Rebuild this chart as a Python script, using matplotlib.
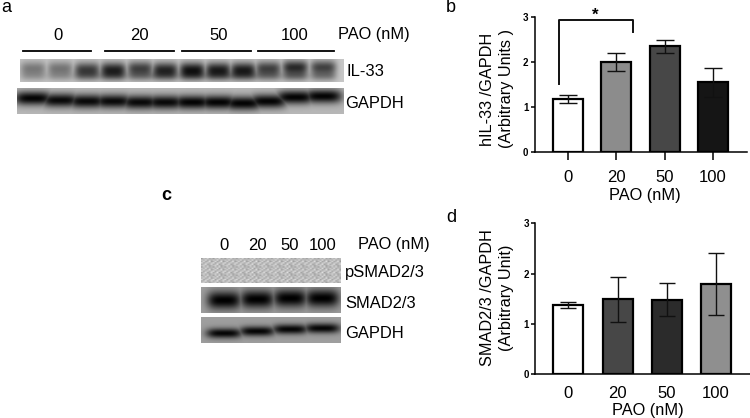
import numpy as np
import matplotlib
matplotlib.use("Agg")
import matplotlib.pyplot as plt

plt.rcParams['font.family'] = ['Liberation Sans', 'DejaVu Sans']

W, H = 750, 418

doses = ['0', '20', '50', '100']

il33_mean = [1.18, 1.99, 2.34, 1.54]
il33_err = [0.09, 0.20, 0.15, 0.32]
il33_colors = ['white', '#8c8c8c', '#474747', '#151515']

smad_mean = [1.37, 1.49, 1.48, 1.79]
smad_err = [0.06, 0.45, 0.33, 0.61]
smad_colors = ['white', '#474747', '#2b2b2b', '#8f8f8f']

# blot lanes, darkness 0-1
il33_lanes = [33, 60, 87, 113, 140, 165, 192, 218, 243, 268, 295, 323]
il33_dark = [0.38, 0.40, 0.66, 0.78, 0.66, 0.76, 0.84, 0.80, 0.80, 0.66, 0.78, 0.66]
il33_y = [68, 68, 69, 69, 68, 69, 69, 69, 69, 68, 67, 67]
gapdh_a_y = [98, 100, 101, 101, 102, 102, 102, 102, 103, 101, 97, 96]
gapdh_a_dark = [0.98, 0.95, 0.95, 0.95, 0.95, 0.95, 0.98, 0.98, 0.98, 0.98, 0.98, 0.98]
c_lanes = [224, 257, 290, 322]
smad_y = [300, 299, 298, 298]
gapdh_c_y = [333, 331, 329, 328]
psmad_tile = [[.62, .78, .70, .84, .66, .74],
              [.80, .68, .86, .64, .76, .70],
              [.70, .84, .66, .72, .88, .62],
              [.86, .64, .76, .82, .68, .78],
              [.66, .74, .88, .62, .72, .84],
              [.76, .82, .68, .78, .64, .72]]


def blot(ov, box, lanes, ys, dark, half_w, half_h, bg, gaps=False):
    x0, x1, y0, y1 = box
    xx, yy = np.meshgrid(np.arange(x0, x1, 0.5), np.arange(y0, y1, 0.5))
    img = np.full(xx.shape, bg, dtype=float)
    band = np.zeros(xx.shape)
    for cx, cy, d in zip(lanes, ys, dark):
        b = d * np.exp(-((xx - cx) / half_w) ** 4) * np.exp(-((yy - cy) / half_h) ** 2)
        band = np.maximum(band, b)
    img = img * (1 - band)
    if gaps:
        # pale smear under the bands, lighter between the lanes
        for cx, d in zip(lanes, dark):
            img -= 0.38 * d * np.exp(-((xx - cx) / half_w) ** 4) * np.exp(-((yy - y0 - 17) / 5) ** 2)
    ov.imshow(np.clip(img, 0, 1), cmap='gray', vmin=0, vmax=1, extent=[x0, x1, y1, y0],
              interpolation='bilinear', aspect='auto', zorder=1)


def bars(rect, centers, vals, errs, colors, ylab, labx, laby, xlab_xy, xtick_len, tick_pad, cap):
    left, right, top, bottom = rect
    ax = fig.add_axes([left / W, 1 - bottom / H, (right - left) / W, (bottom - top) / H])
    step = (centers[-1] - centers[0]) / 3
    ax.set_xlim((left - centers[0]) / step, (right - centers[0]) / step)
    ax.set_ylim(0, 3)
    x = np.arange(len(vals))
    ax.bar(x, vals, width=30 / step, color=colors, edgecolor='black', linewidth=1.6)
    ax.errorbar(x, vals, yerr=errs, fmt='none', ecolor='#111111', elinewidth=1.0, capsize=cap, capthick=1.0)
    ax.spines['top'].set_visible(False)
    ax.spines['right'].set_visible(False)
    ax.spines['left'].set_linewidth(1.1)
    ax.spines['bottom'].set_linewidth(1.1)
    ax.set_yticks([0, 1, 2, 3])
    ax.set_yticklabels(['0', '1', '2', '3'], fontsize=7, fontweight='bold')
    ax.tick_params(axis='y', length=3.2, width=1.1, pad=1.5)
    ax.set_xticks(x)
    ax.set_xticklabels(doses, fontsize=12)
    ax.tick_params(axis='x', length=xtick_len, width=1.1, pad=tick_pad)
    ax.set_ylabel(ylab, fontsize=11.7, linespacing=1.35, multialignment='center')
    ax.yaxis.set_label_coords((labx - left) / (right - left), (bottom - laby) / (bottom - top))
    ax.set_xlabel('PAO (nM)', fontsize=11.8)
    ax.xaxis.label.set_verticalalignment('center')
    ax.xaxis.set_label_coords((xlab_xy[0] - left) / (right - left), (bottom - xlab_xy[1]) / (bottom - top))
    return ax


fig = plt.figure(figsize=(W / 100, H / 100), dpi=100)

# overlay in pixel coordinates for the blots and their labels
ov = fig.add_axes([0, 0, 1, 1])
ov.set_xlim(0, W)
ov.set_ylim(H, 0)
ov.axis('off')

# panel a
blot(ov, (20, 344, 59, 82), il33_lanes, il33_y, il33_dark, 13, 7, 0.78, gaps=True)
blot(ov, (17, 344, 88, 114), il33_lanes, gapdh_a_y, gapdh_a_dark, 19, 7, 0.72)
for xa, xb in [(23, 91), (105, 174), (182, 251), (258, 334)]:
    ov.plot([xa, xb], [51, 51], color='black', lw=1.3, zorder=2)
for xt, lab in zip([58, 139, 219, 295], doses):
    ov.text(xt, 36, lab, fontsize=12, ha='center', va='center')
ov.text(338, 35, 'PAO (nM)', fontsize=11.8, va='center')
ov.text(347, 71, 'IL-33', fontsize=12, va='center')
ov.text(345, 103, 'GAPDH', fontsize=11.9, va='center')

# panel c
tile = np.tile(np.array(psmad_tile), (3, 12))
ov.imshow(tile, cmap='gray', vmin=0, vmax=1, extent=[201, 341, 283, 258],
          interpolation='bilinear', aspect='auto', zorder=1)
blot(ov, (201, 341, 287, 313), c_lanes, smad_y, [1, 1, 1, 1], 17, 9, 0.62)
blot(ov, (201, 341, 317, 343), c_lanes, gapdh_c_y, [0.97, 0.97, 0.97, 0.97], 18, 5, 0.62)
for xt, lab in zip([224, 257, 290, 323], doses):
    ov.text(xt, 246, lab, fontsize=12, ha='center', va='center')
ov.text(358, 245, 'PAO (nM)', fontsize=11.8, va='center')
ov.text(345, 273, 'pSMAD2/3', fontsize=11.9, va='center')
ov.text(345, 303, 'SMAD2/3', fontsize=11.9, va='center')
ov.text(345, 333, 'GAPDH', fontsize=11.9, va='center')

# panel letters
ov.text(1, 8, 'a', fontsize=13, va='center')
ov.text(446, 8, 'b', fontsize=13, va='center')
ov.text(161, 195, 'c', fontsize=13, fontweight='bold', va='center')
ov.text(446, 217, 'd', fontsize=13, va='center')

# panel b
axb = bars((535, 747, 16.7, 151.7), [567.7, 616, 664.7, 713], il33_mean, il33_err, il33_colors,
           'hIL-33 /GAPDH\n(Arbitrary Units )', 514, 89, (645, 195), 6, 7, 6.6)
axb.plot([-0.18, -0.18, 1.34, 1.34], [1.5, 2.93, 2.93, 2.65], color='#111111', lw=1.4, clip_on=False)
axb.text(0.57, 3.04, '*', fontsize=12, fontweight='bold', ha='center', va='center')

# panel d
bars((535.3, 750, 223.3, 374), [568.3, 617, 666.7, 716], smad_mean, smad_err, smad_colors,
     'SMAD2/3 /GAPDH\n(Arbitrary Unit)', 514, 298, (648, 411), 0, 9, 6)

fig.savefig('out.png', dpi=100)
